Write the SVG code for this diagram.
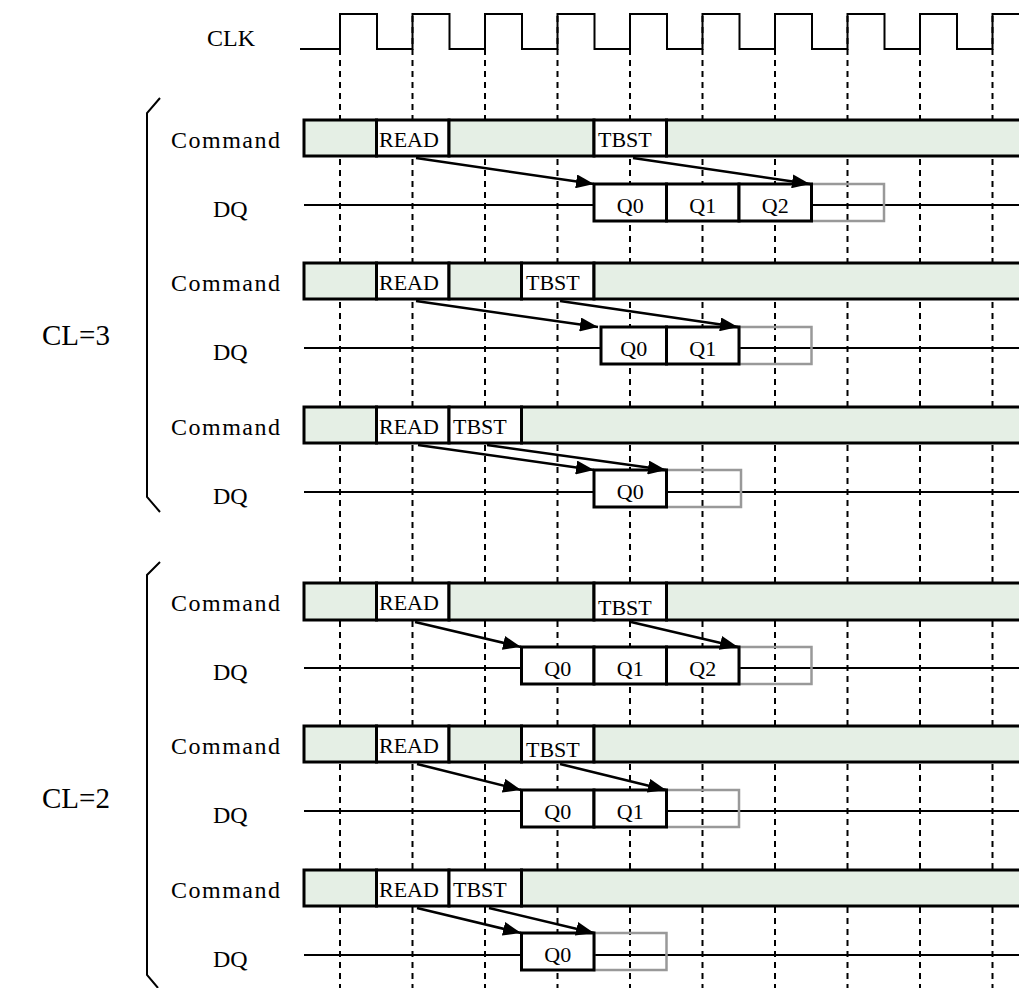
<svg xmlns="http://www.w3.org/2000/svg" width="1019" height="988" viewBox="0 0 1019 988">
<style>
.bg{fill:#fff}
.cmd{fill:#e5efe5;stroke:#000;stroke-width:3}
.cell{fill:#fff;stroke:#000;stroke-width:3}
.q{fill:#fff;stroke:#000;stroke-width:3}
.ghost{fill:none;stroke:#999;stroke-width:2.5}
.dq{stroke:#000;stroke-width:2}
.grid{stroke:#000;stroke-width:2;stroke-dasharray:6 5}
.clk{fill:none;stroke:#000;stroke-width:2}
.brace{fill:none;stroke:#000;stroke-width:2}
.lbl{font-family:"Liberation Serif","Times New Roman",serif;font-size:24px;fill:#000}
.sp{letter-spacing:1.5px}
.big{font-family:"Liberation Serif","Times New Roman",serif;font-size:29px;fill:#000}
.ct{font-family:"Liberation Serif","Times New Roman",serif;font-size:22px;fill:#000}
.qt{font-family:"Liberation Serif","Times New Roman",serif;font-size:22px;fill:#000;text-anchor:middle}
.arr{fill:none;stroke:#000;stroke-width:2.5;marker-end:url(#ah)}
</style>
<defs>
<marker id="ah" markerUnits="userSpaceOnUse" markerWidth="20" markerHeight="14" refX="18" refY="7" orient="auto">
<path d="M0,0 L18,7 L0,14 z" fill="#000"/>
</marker>
</defs>
<rect class="bg" x="0" y="0" width="1019" height="988"/>

<g id="grid">
<line class="grid" x1="340" y1="16" x2="340" y2="988"/>
<line class="grid" x1="412.5" y1="16" x2="412.5" y2="988"/>
<line class="grid" x1="485" y1="16" x2="485" y2="988"/>
<line class="grid" x1="557.5" y1="16" x2="557.5" y2="988"/>
<line class="grid" x1="630" y1="16" x2="630" y2="988"/>
<line class="grid" x1="702.5" y1="16" x2="702.5" y2="988"/>
<line class="grid" x1="775" y1="16" x2="775" y2="988"/>
<line class="grid" x1="847.5" y1="16" x2="847.5" y2="988"/>
<line class="grid" x1="920" y1="16" x2="920" y2="988"/>
<line class="grid" x1="992.5" y1="16" x2="992.5" y2="988"/>
</g>

<g id="clk">
<text class="lbl" x="207" y="46">CLK</text>
<path class="clk" d="M300,49 H340 V14 H377 V49 H412.5 V14 H449.5 V49 H485 V14 H522 V49 H557.5 V14 H594.5 V49 H630 V14 H667 V49 H702.5 V14 H739.5 V49 H775 V14 H812 V49 H847.5 V14 H884.5 V49 H920 V14 H957 V49 H992.5 V14 H1025"/>
</g>

<g id="braces">
<polyline class="brace" points="160,98 147,113 147,497 160,512"/>
<polyline class="brace" points="160,562 147,575 147,975 158,988"/>
<text class="big" x="42" y="345">CL=3</text>
<text class="big" x="42" y="808">CL=2</text>
</g>

<g id="row1">
<text class="lbl sp" x="171" y="148">Command</text>
<rect class="cmd" x="304" y="120" width="72.5" height="36"/>
<rect class="cell" x="376.5" y="120" width="72.5" height="36"/>
<rect class="cmd" x="449" y="120" width="145" height="36"/>
<rect class="cell" x="594" y="120" width="72.5" height="36"/>
<rect class="cmd" x="666.5" y="120" width="370" height="36"/>
<text class="ct" x="379" y="147">READ</text>
<text class="ct" x="598" y="147">TBST</text>
<text class="lbl" x="213" y="217">DQ</text>
<line class="dq" x1="304" y1="205" x2="1025" y2="205"/>
<rect class="ghost" x="811.5" y="184" width="72.5" height="37"/>
<rect class="q" x="594" y="184" width="72.5" height="37"/>
<rect class="q" x="666.5" y="184" width="72.5" height="37"/>
<rect class="q" x="739" y="184" width="72.5" height="37"/>
<text class="qt" x="630.2" y="213">Q0</text>
<text class="qt" x="702.7" y="213">Q1</text>
<text class="qt" x="775.2" y="213">Q2</text>
</g>

<g id="row2">
<text class="lbl sp" x="171" y="291">Command</text>
<rect class="cmd" x="304" y="263" width="72.5" height="36"/>
<rect class="cell" x="376.5" y="263" width="72.5" height="36"/>
<rect class="cmd" x="449" y="263" width="72.5" height="36"/>
<rect class="cell" x="521.5" y="263" width="72.5" height="36"/>
<rect class="cmd" x="594" y="263" width="442" height="36"/>
<text class="ct" x="379" y="290">READ</text>
<text class="ct" x="526" y="290">TBST</text>
<text class="lbl" x="213" y="360">DQ</text>
<line class="dq" x1="304" y1="348" x2="1025" y2="348"/>
<rect class="ghost" x="739" y="327" width="72.5" height="37"/>
<rect class="q" x="601" y="327" width="65.5" height="37"/>
<rect class="q" x="666.5" y="327" width="72.5" height="37"/>
<text class="qt" x="633.7" y="356">Q0</text>
<text class="qt" x="702.7" y="356">Q1</text>
</g>

<g id="row3">
<text class="lbl sp" x="171" y="435">Command</text>
<rect class="cmd" x="304" y="407" width="72.5" height="36"/>
<rect class="cell" x="376.5" y="407" width="72.5" height="36"/>
<rect class="cell" x="449" y="407" width="72.5" height="36"/>
<rect class="cmd" x="521.5" y="407" width="514" height="36"/>
<text class="ct" x="379" y="434">READ</text>
<text class="ct" x="453" y="434">TBST</text>
<text class="lbl" x="213" y="504">DQ</text>
<line class="dq" x1="304" y1="492" x2="1025" y2="492"/>
<rect class="ghost" x="666.5" y="470" width="74.5" height="37"/>
<rect class="q" x="594" y="470" width="72.5" height="37"/>
<text class="qt" x="630.2" y="499">Q0</text>
</g>

<g id="row4">
<text class="lbl sp" x="171" y="611">Command</text>
<rect class="cmd" x="304" y="583" width="72.5" height="37"/>
<rect class="cell" x="376.5" y="583" width="72.5" height="37"/>
<rect class="cmd" x="449" y="583" width="145" height="37"/>
<rect class="cell" x="594" y="583" width="72.5" height="37"/>
<rect class="cmd" x="666.5" y="583" width="370" height="37"/>
<text class="ct" x="379" y="610">READ</text>
<text class="ct" x="598" y="615">TBST</text>
<text class="lbl" x="213" y="680">DQ</text>
<line class="dq" x1="304" y1="668" x2="1025" y2="668"/>
<rect class="ghost" x="739" y="647" width="72.5" height="37"/>
<rect class="q" x="521.5" y="647" width="72.5" height="37"/>
<rect class="q" x="594" y="647" width="72.5" height="37"/>
<rect class="q" x="666.5" y="647" width="72.5" height="37"/>
<text class="qt" x="557.7" y="676">Q0</text>
<text class="qt" x="630.2" y="676">Q1</text>
<text class="qt" x="702.7" y="676">Q2</text>
</g>

<g id="row5">
<text class="lbl sp" x="171" y="754">Command</text>
<rect class="cmd" x="304" y="726" width="72.5" height="36"/>
<rect class="cell" x="376.5" y="726" width="72.5" height="36"/>
<rect class="cmd" x="449" y="726" width="72.5" height="36"/>
<rect class="cell" x="521.5" y="726" width="72.5" height="36"/>
<rect class="cmd" x="594" y="726" width="442" height="36"/>
<text class="ct" x="379" y="753">READ</text>
<text class="ct" x="526" y="757">TBST</text>
<text class="lbl" x="213" y="823">DQ</text>
<line class="dq" x1="304" y1="811" x2="1025" y2="811"/>
<rect class="ghost" x="666.5" y="790" width="72.5" height="37"/>
<rect class="q" x="521.5" y="790" width="72.5" height="37"/>
<rect class="q" x="594" y="790" width="72.5" height="37"/>
<text class="qt" x="557.7" y="819">Q0</text>
<text class="qt" x="630.2" y="819">Q1</text>
</g>

<g id="row6">
<text class="lbl sp" x="171" y="898">Command</text>
<rect class="cmd" x="304" y="870" width="72.5" height="36"/>
<rect class="cell" x="376.5" y="870" width="72.5" height="36"/>
<rect class="cell" x="449" y="870" width="72.5" height="36"/>
<rect class="cmd" x="521.5" y="870" width="514" height="36"/>
<text class="ct" x="379" y="897">READ</text>
<text class="ct" x="453" y="897">TBST</text>
<text class="lbl" x="213" y="967">DQ</text>
<line class="dq" x1="304" y1="955" x2="1025" y2="955"/>
<rect class="ghost" x="594" y="933" width="72.5" height="37"/>
<rect class="q" x="521.5" y="933" width="72.5" height="37"/>
<text class="qt" x="557.7" y="962">Q0</text>
</g>

<g id="connectors">
<line class="arr" x1="416" y1="158" x2="594" y2="184"/>
<line class="arr" x1="633" y1="158" x2="810" y2="184"/>
<line class="arr" x1="416" y1="301" x2="598" y2="327"/>
<line class="arr" x1="560" y1="301" x2="738" y2="327"/>
<line class="arr" x1="418" y1="445" x2="594" y2="470"/>
<line class="arr" x1="487" y1="445" x2="666" y2="470"/>
<line class="arr" x1="415" y1="622" x2="521" y2="647"/>
<line class="arr" x1="631" y1="622" x2="738" y2="647"/>
<line class="arr" x1="417" y1="764" x2="521" y2="790"/>
<line class="arr" x1="560" y1="764" x2="666" y2="790"/>
<line class="arr" x1="417" y1="908" x2="521" y2="933"/>
<line class="arr" x1="489" y1="908" x2="594" y2="933"/>
</g>
</svg>
